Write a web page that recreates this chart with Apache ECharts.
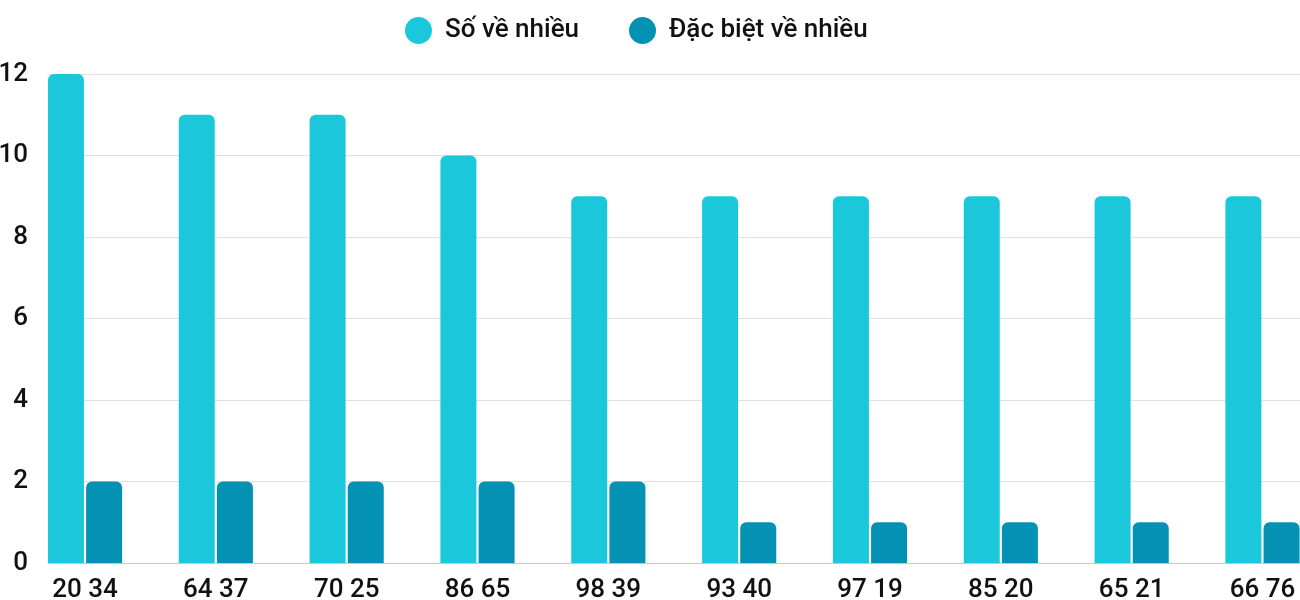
<!DOCTYPE html>
<html>
<head>
<meta charset="utf-8">
<script src="https://cdn.jsdelivr.net/npm/echarts@6/dist/echarts.min.js"></script>
<style>
html,body{margin:0;padding:0;background:#fff;}
#chart{width:1300px;height:600px;}
</style>
</head>
<body>
<div id="chart"></div>
<script>
const categories = ['20 34', '64 37', '70 25', '86 65', '98 39', '93 40', '97 19', '85 20', '65 21', '66 76'];
const seriesNames = ['Số về nhiều', 'Đặc biệt về nhiều'];
const soVeNhieu = [12, 11, 11, 10, 9, 9, 9, 9, 9, 9];
const dacBietVeNhieu = [2, 2, 2, 2, 2, 1, 1, 1, 1, 1];
const yTicks = { min: 0, max: 12, interval: 2 };
const colors = ['#1BC8DB', '#0492B4'];

const chart = echarts.init(document.getElementById('chart'));
const fontFamily = 'Roboto, sans-serif';
chart.setOption({
  animation: false,
  color: colors,
  textStyle: { fontFamily: fontFamily },
  legend: {
    top: 12,
    left: 400,
    icon: 'circle',
    itemWidth: 27,
    itemHeight: 27,
    itemGap: 50,
    textStyle: { fontSize: 26, fontWeight: 500, color: '#111', fontFamily: fontFamily, padding: [0, 0, 0, 8] },
    data: seriesNames
  },
  grid: [
    { left: 48, right: 0, top: 74, bottom: 37, outerBoundsMode: 'none', containLabel: false },
    { left: 19.6, width: 1308.3, top: 74, bottom: 37, outerBoundsMode: 'none', containLabel: false }
  ],
  xAxis: [
    {
      gridIndex: 0, type: 'category', data: categories,
      axisLine: { show: true, lineStyle: { color: '#c8c8c8', width: 1 } },
      axisTick: { show: false }, axisLabel: { show: false }
    },
    {
      gridIndex: 1, type: 'category', data: categories,
      axisLine: { show: false }, axisTick: { show: false },
      axisLabel: { fontSize: 26, fontWeight: 500, color: '#111', margin: 14, fontFamily: fontFamily }
    }
  ],
  yAxis: [
    {
      gridIndex: 0, type: 'value', min: yTicks.min, max: yTicks.max, interval: yTicks.interval,
      axisLine: { show: false }, axisTick: { show: false },
      axisLabel: { fontSize: 26, fontWeight: 500, color: '#111', margin: 20, fontFamily: fontFamily },
      splitLine: { lineStyle: { color: '#e0e0e0', width: 1 } }
    },
    {
      gridIndex: 1, type: 'value', min: yTicks.min, max: yTicks.max, interval: yTicks.interval,
      show: false, splitLine: { show: false }
    }
  ],
  series: [
    {
      name: seriesNames[0], type: 'bar', xAxisIndex: 1, yAxisIndex: 1,
      data: soVeNhieu, barWidth: 36, barGap: '6%',
      itemStyle: { color: colors[0], borderRadius: [6, 6, 0, 0] }
    },
    {
      name: seriesNames[1], type: 'bar', xAxisIndex: 1, yAxisIndex: 1,
      data: dacBietVeNhieu, barWidth: 36, barGap: '6%',
      itemStyle: { color: colors[1], borderRadius: [6, 6, 0, 0] }
    }
  ]
});
</script>
</body>
</html>
